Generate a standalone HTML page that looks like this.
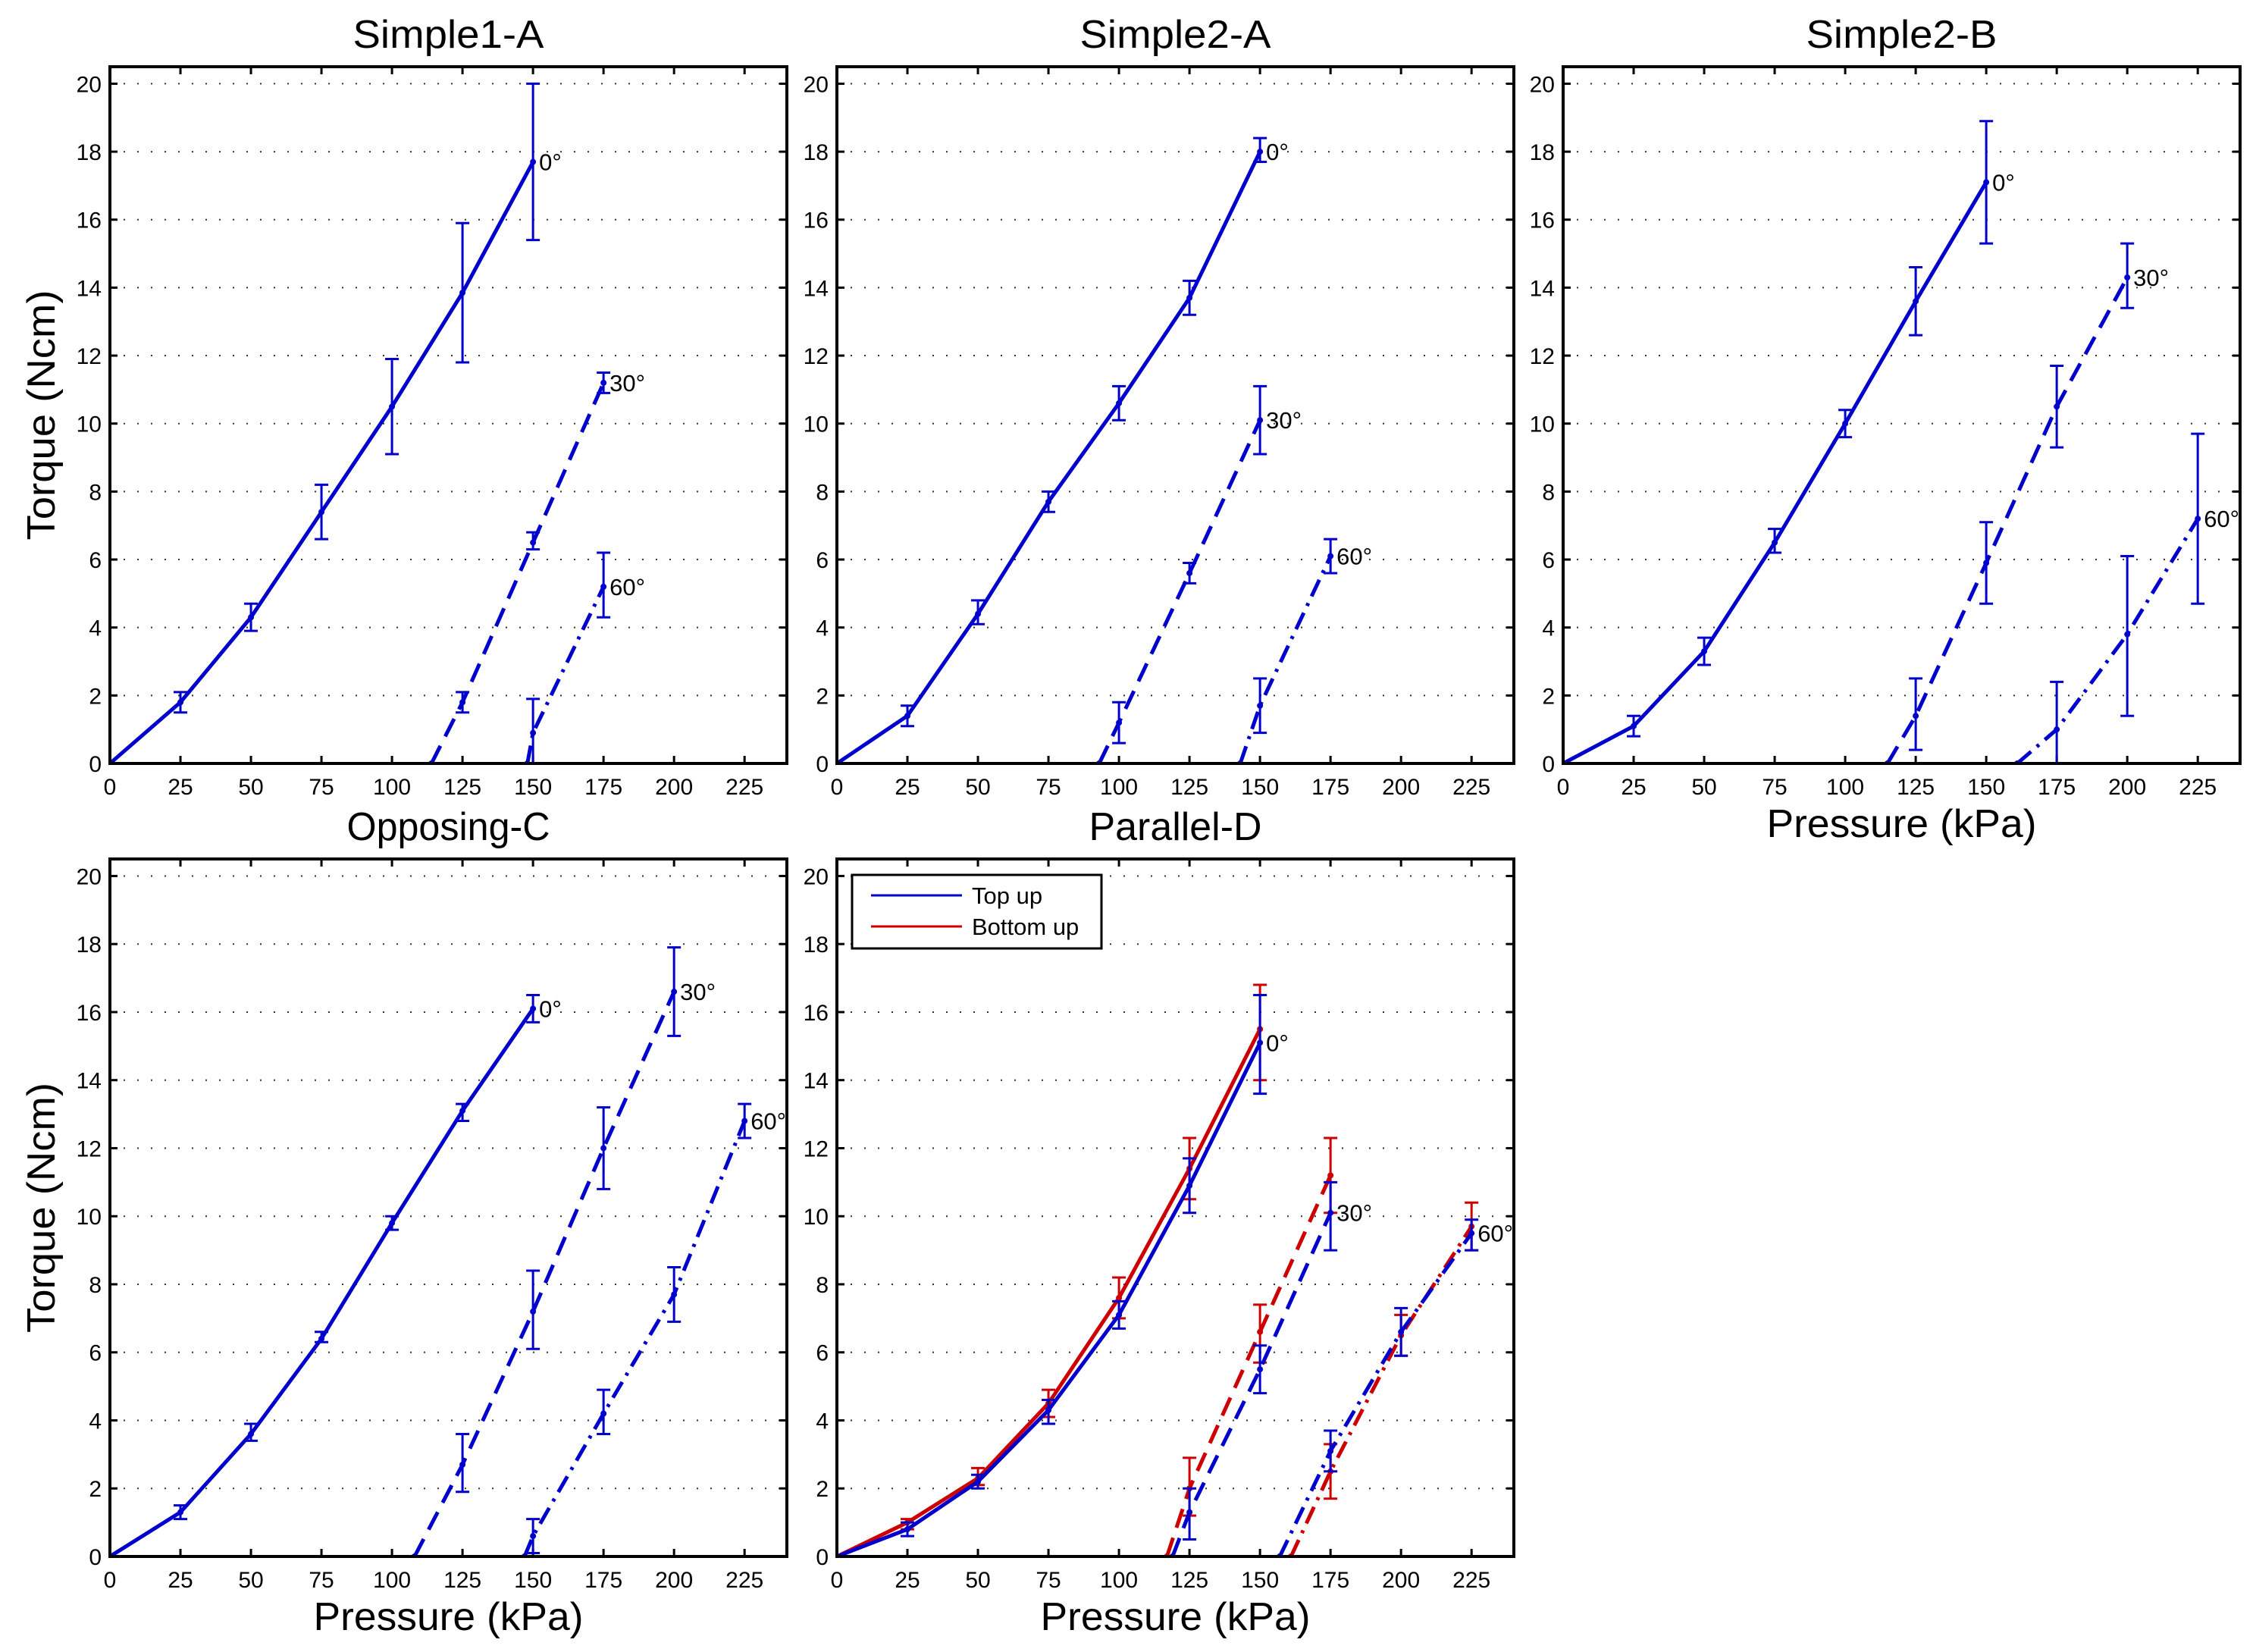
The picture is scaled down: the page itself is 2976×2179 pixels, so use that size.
<!DOCTYPE html>
<html><head><meta charset="utf-8"><style>
html,body{margin:0;padding:0;background:#fff}
svg text{font-family:"Liberation Sans",sans-serif}
</style></head><body>
<svg id="fig" xmlns="http://www.w3.org/2000/svg" width="2976" height="2174" viewBox="0 0 2976 2174"></svg>
<script>
// x pressure values per series, y torque means, lo/hi error bounds
const p1_0x=[0,25,50,75,100,125,150], p1_0y=[0,1.8,4.3,7.4,10.5,13.85,17.7], p1_0lo=[0,1.5,3.9,6.6,9.1,11.8,15.4], p1_0hi=[0,2.1,4.7,8.2,11.9,15.9,20.0];
const p1_30x=[114,125,150,175], p1_30y=[0,1.8,6.5,11.2], p1_30lo=[0,1.5,6.3,10.9], p1_30hi=[0,2.1,6.8,11.5];
const p1_60x=[148,150,175], p1_60y=[0,0.9,5.2], p1_60lo=[0,0,4.3], p1_60hi=[0,1.9,6.2];
const p2_0x=[0,25,50,75,100,125,150], p2_0y=[0,1.4,4.4,7.7,10.6,13.7,18.0], p2_0lo=[0,1.1,4.1,7.4,10.1,13.2,17.7], p2_0hi=[0,1.7,4.8,8.0,11.1,14.2,18.4];
const p2_30x=[93,100,125,150], p2_30y=[0,1.2,5.6,10.1], p2_30lo=[0,0.6,5.3,9.1], p2_30hi=[0,1.8,5.9,11.1];
const p2_60x=[143,150,175], p2_60y=[0,1.7,6.1], p2_60lo=[0,0.9,5.6], p2_60hi=[0,2.5,6.6];
const p3_0x=[0,25,50,75,100,125,150], p3_0y=[0,1.1,3.3,6.5,10.0,13.6,17.1], p3_0lo=[0,0.8,2.9,6.2,9.6,12.6,15.3], p3_0hi=[0,1.4,3.7,6.9,10.4,14.6,18.9];
const p3_30x=[115,125,150,175,200], p3_30y=[0,1.4,5.9,10.5,14.3], p3_30lo=[0,0.4,4.7,9.3,13.4], p3_30hi=[0,2.5,7.1,11.7,15.3];
const p3_60x=[161,175,200,225], p3_60y=[0,1.0,3.8,7.2], p3_60lo=[0,-0.4,1.4,4.7], p3_60hi=[0,2.4,6.1,9.7];
const p4_0x=[0,25,50,75,100,125,150], p4_0y=[0,1.3,3.6,6.4,9.8,13.1,16.1], p4_0lo=[0,1.1,3.4,6.3,9.6,12.8,15.7], p4_0hi=[0,1.5,3.9,6.6,10.0,13.3,16.5];
const p4_30x=[108,125,150,175,200], p4_30y=[0,2.7,7.2,12.0,16.6], p4_30lo=[0,1.9,6.1,10.8,15.3], p4_30hi=[0,3.6,8.4,13.2,17.9];
const p4_60x=[147,150,175,200,225], p4_60y=[0,0.6,4.2,7.7,12.8], p4_60lo=[0,0.1,3.6,6.9,12.3], p4_60hi=[0,1.1,4.9,8.5,13.3];
const p5b0x=[0,25,50,75,100,125,150], p5b0y=[0,0.8,2.2,4.3,7.1,10.9,15.1], p5b0lo=[0,0.6,2.0,3.9,6.7,10.1,13.6], p5b0hi=[0,1.0,2.4,4.6,7.5,11.7,16.5];
const p5r0x=[0,25,50,75,100,125,150], p5r0y=[0,1.0,2.3,4.5,7.6,11.4,15.5], p5r0lo=[0,0.8,2.1,4.1,7.0,10.5,14.0], p5r0hi=[0,1.1,2.6,4.9,8.2,12.3,16.8];
const p5b30x=[119,125,150,175], p5b30y=[0,1.3,5.5,10.1], p5b30lo=[0,0.5,4.8,9.0], p5b30hi=[0,2.0,6.2,11.0];
const p5r30x=[117,125,150,175], p5r30y=[0,2.0,6.6,11.2], p5r30lo=[0,1.2,5.7,10.1], p5r30hi=[0,2.9,7.4,12.3];
const p5b60x=[157,175,200,225], p5b60y=[0,3.1,6.6,9.5], p5b60lo=[0,2.5,5.9,9.0], p5b60hi=[0,3.7,7.3,9.9];
const p5r60x=[161,175,200,225], p5r60y=[0,2.5,6.5,9.7], p5r60lo=[0,1.7,5.9,9.0], p5r60hi=[0,3.3,7.1,10.4];
const xTicks=[0,25,50,75,100,125,150,175,200,225];
const yTicks=[0,2,4,6,8,10,12,14,16,18,20];
const titles=["Simple1-A","Simple2-A","Simple2-B","Opposing-C","Parallel-D"];

const NS="http://www.w3.org/2000/svg";
const svg=document.getElementById('fig');
function mk(tag,attrs,parent){const e=document.createElementNS(NS,tag);for(const k in attrs)e.setAttribute(k,attrs[k]);(parent||svg).appendChild(e);return e;}
const W=893, XMAX=240, YMAX=20.5;
const panels=[
 {l:145,b:1007,t:88,title:0,xl:false,yl:true},
 {l:1104,b:1007,t:88,title:1,xl:false,yl:false},
 {l:2062,b:1007,t:88,title:2,xl:true,yl:false},
 {l:145,b:2053,t:1133,title:3,xl:true,yl:true},
 {l:1104,b:2053,t:1133,title:4,xl:true,yl:false}];
const BLUE="#0000cc", RED="#cc0000";
const DASH="26 14", DASHDOT="24 10 4 10";
function draw(pi,P,series){
 const g=mk('g',{});
 
 
 const H=P.b-P.t;
 const sx=v=>P.l+v/XMAX*W, sy=v=>P.b-v/YMAX*H;
 const cid='clip'+pi;
 const cp=mk('clipPath',{id:cid},g); mk('rect',{x:P.l,y:P.t,width:W,height:H},cp);
 yTicks.forEach(v=>{
  const gl=mk('line',{x1:P.l,x2:P.l+W,y1:sy(v),y2:sy(v),stroke:'#333','stroke-width':2,'stroke-dasharray':'2 16'},g);
  
  
  mk('line',{x1:P.l,x2:P.l+10,y1:sy(v),y2:sy(v),stroke:'#000','stroke-width':3},g);
  mk('line',{x1:P.l+W-10,x2:P.l+W,y1:sy(v),y2:sy(v),stroke:'#000','stroke-width':3},g);
  const t=mk('text',{x:P.l-11,y:sy(v)+11,'font-size':30,'text-anchor':'end'},g);t.textContent=v;
  
  
 });
 xTicks.forEach(v=>{
  mk('line',{x1:sx(v),x2:sx(v),y1:P.b,y2:P.b-10,stroke:'#000','stroke-width':3},g);
  mk('line',{x1:sx(v),x2:sx(v),y1:P.t,y2:P.t+10,stroke:'#000','stroke-width':3},g);
  const t=mk('text',{x:sx(v),y:P.b+41,'font-size':30,'text-anchor':'middle'},g);t.textContent=v;
  
  
 });
 const pg=mk('g',{'clip-path':'url(#'+cid+')'},g);
 series.forEach(s=>{
  const pts=s.x.map((v,i)=>sx(v)+','+sy(s.y[i])).join(' ');
  const pl=mk('polyline',{points:pts,fill:'none',stroke:s.c,'stroke-width':5,'stroke-dasharray':s.d||'none'},pg);
  
  
  s.x.forEach((v,i)=>{
   if(s.hi[i]!==s.lo[i]){
    const X=sx(v);
    const eb=mk('g',{stroke:s.c,'stroke-width':3},pg);
    
    
    mk('line',{x1:X,x2:X,y1:sy(s.lo[i]),y2:sy(s.hi[i])},eb);
    mk('line',{x1:X-9,x2:X+9,y1:sy(s.lo[i]),y2:sy(s.lo[i])},eb);
    mk('line',{x1:X-9,x2:X+9,y1:sy(s.hi[i]),y2:sy(s.hi[i])},eb);
   }
   const m=mk('circle',{cx:sx(v),cy:sy(s.y[i]),r:4,fill:s.c},pg);
   
   
  });
  if(s.lab){const n=s.x.length-1;
   const t=mk('text',{x:sx(s.x[n])+8,y:sy(s.y[n])+11,'font-size':31},g);t.textContent=s.lab;
   
   }
 });
 const fr=mk('rect',{x:P.l,y:P.t,width:W,height:H,fill:'none',stroke:'#000','stroke-width':4},g);
 
 
 const tt=mk('text',{x:P.l+W/2,y:P.t-25,'font-size':52,'text-anchor':'middle',textLength:252,lengthAdjust:'spacingAndGlyphs'},g);tt.textContent=titles[P.title];
 if(P.title===3)tt.setAttribute('textLength',268);
 if(P.title===4)tt.setAttribute('textLength',228);
 
 
 if(P.xl){const t=mk('text',{x:P.l+W/2,y:P.b+97,'font-size':52,'text-anchor':'middle',textLength:356,lengthAdjust:'spacingAndGlyphs'},g);t.textContent='Pressure (kPa)';
  
  }
 if(P.yl){const cy=(P.t+P.b)/2;const t=mk('text',{x:0,y:0,'font-size':52,'text-anchor':'middle',textLength:330,lengthAdjust:'spacingAndGlyphs',transform:`translate(72,${cy}) rotate(-90)`},g);t.textContent='Torque (Ncm)';
  
  }
 return g;
}
const S=(x,y,lo,hi,c,d,lab)=>({x,y,lo,hi,c,d,lab});
draw(0,panels[0],[S(p1_0x,p1_0y,p1_0lo,p1_0hi,BLUE,null,'0°'),S(p1_30x,p1_30y,p1_30lo,p1_30hi,BLUE,DASH,'30°'),S(p1_60x,p1_60y,p1_60lo,p1_60hi,BLUE,DASHDOT,'60°')]);
draw(1,panels[1],[S(p2_0x,p2_0y,p2_0lo,p2_0hi,BLUE,null,'0°'),S(p2_30x,p2_30y,p2_30lo,p2_30hi,BLUE,DASH,'30°'),S(p2_60x,p2_60y,p2_60lo,p2_60hi,BLUE,DASHDOT,'60°')]);
draw(2,panels[2],[S(p3_0x,p3_0y,p3_0lo,p3_0hi,BLUE,null,'0°'),S(p3_30x,p3_30y,p3_30lo,p3_30hi,BLUE,DASH,'30°'),S(p3_60x,p3_60y,p3_60lo,p3_60hi,BLUE,DASHDOT,'60°')]);
draw(3,panels[3],[S(p4_0x,p4_0y,p4_0lo,p4_0hi,BLUE,null,'0°'),S(p4_30x,p4_30y,p4_30lo,p4_30hi,BLUE,DASH,'30°'),S(p4_60x,p4_60y,p4_60lo,p4_60hi,BLUE,DASHDOT,'60°')]);
draw(4,panels[4],[S(p5r0x,p5r0y,p5r0lo,p5r0hi,RED,null),S(p5b0x,p5b0y,p5b0lo,p5b0hi,BLUE,null,'0°'),
 S(p5r30x,p5r30y,p5r30lo,p5r30hi,RED,DASH),S(p5b30x,p5b30y,p5b30lo,p5b30hi,BLUE,DASH,'30°'),
 S(p5r60x,p5r60y,p5r60lo,p5r60hi,RED,DASHDOT),S(p5b60x,p5b60y,p5b60lo,p5b60hi,BLUE,DASHDOT,'60°')]);
// legend
const lg=mk('g',{});


mk('rect',{x:1124,y:1154,width:329,height:97,fill:'#fff',stroke:'#000','stroke-width':3},lg);
mk('line',{x1:1149,x2:1269,y1:1181,y2:1181,stroke:BLUE,'stroke-width':3},lg);
mk('line',{x1:1149,x2:1269,y1:1222,y2:1222,stroke:RED,'stroke-width':3},lg);
const l1=mk('text',{x:1282,y:1192,'font-size':31},lg);l1.textContent='Top up';


const l2=mk('text',{x:1282,y:1233,'font-size':31},lg);l2.textContent='Bottom up';


</script>
</body></html>
